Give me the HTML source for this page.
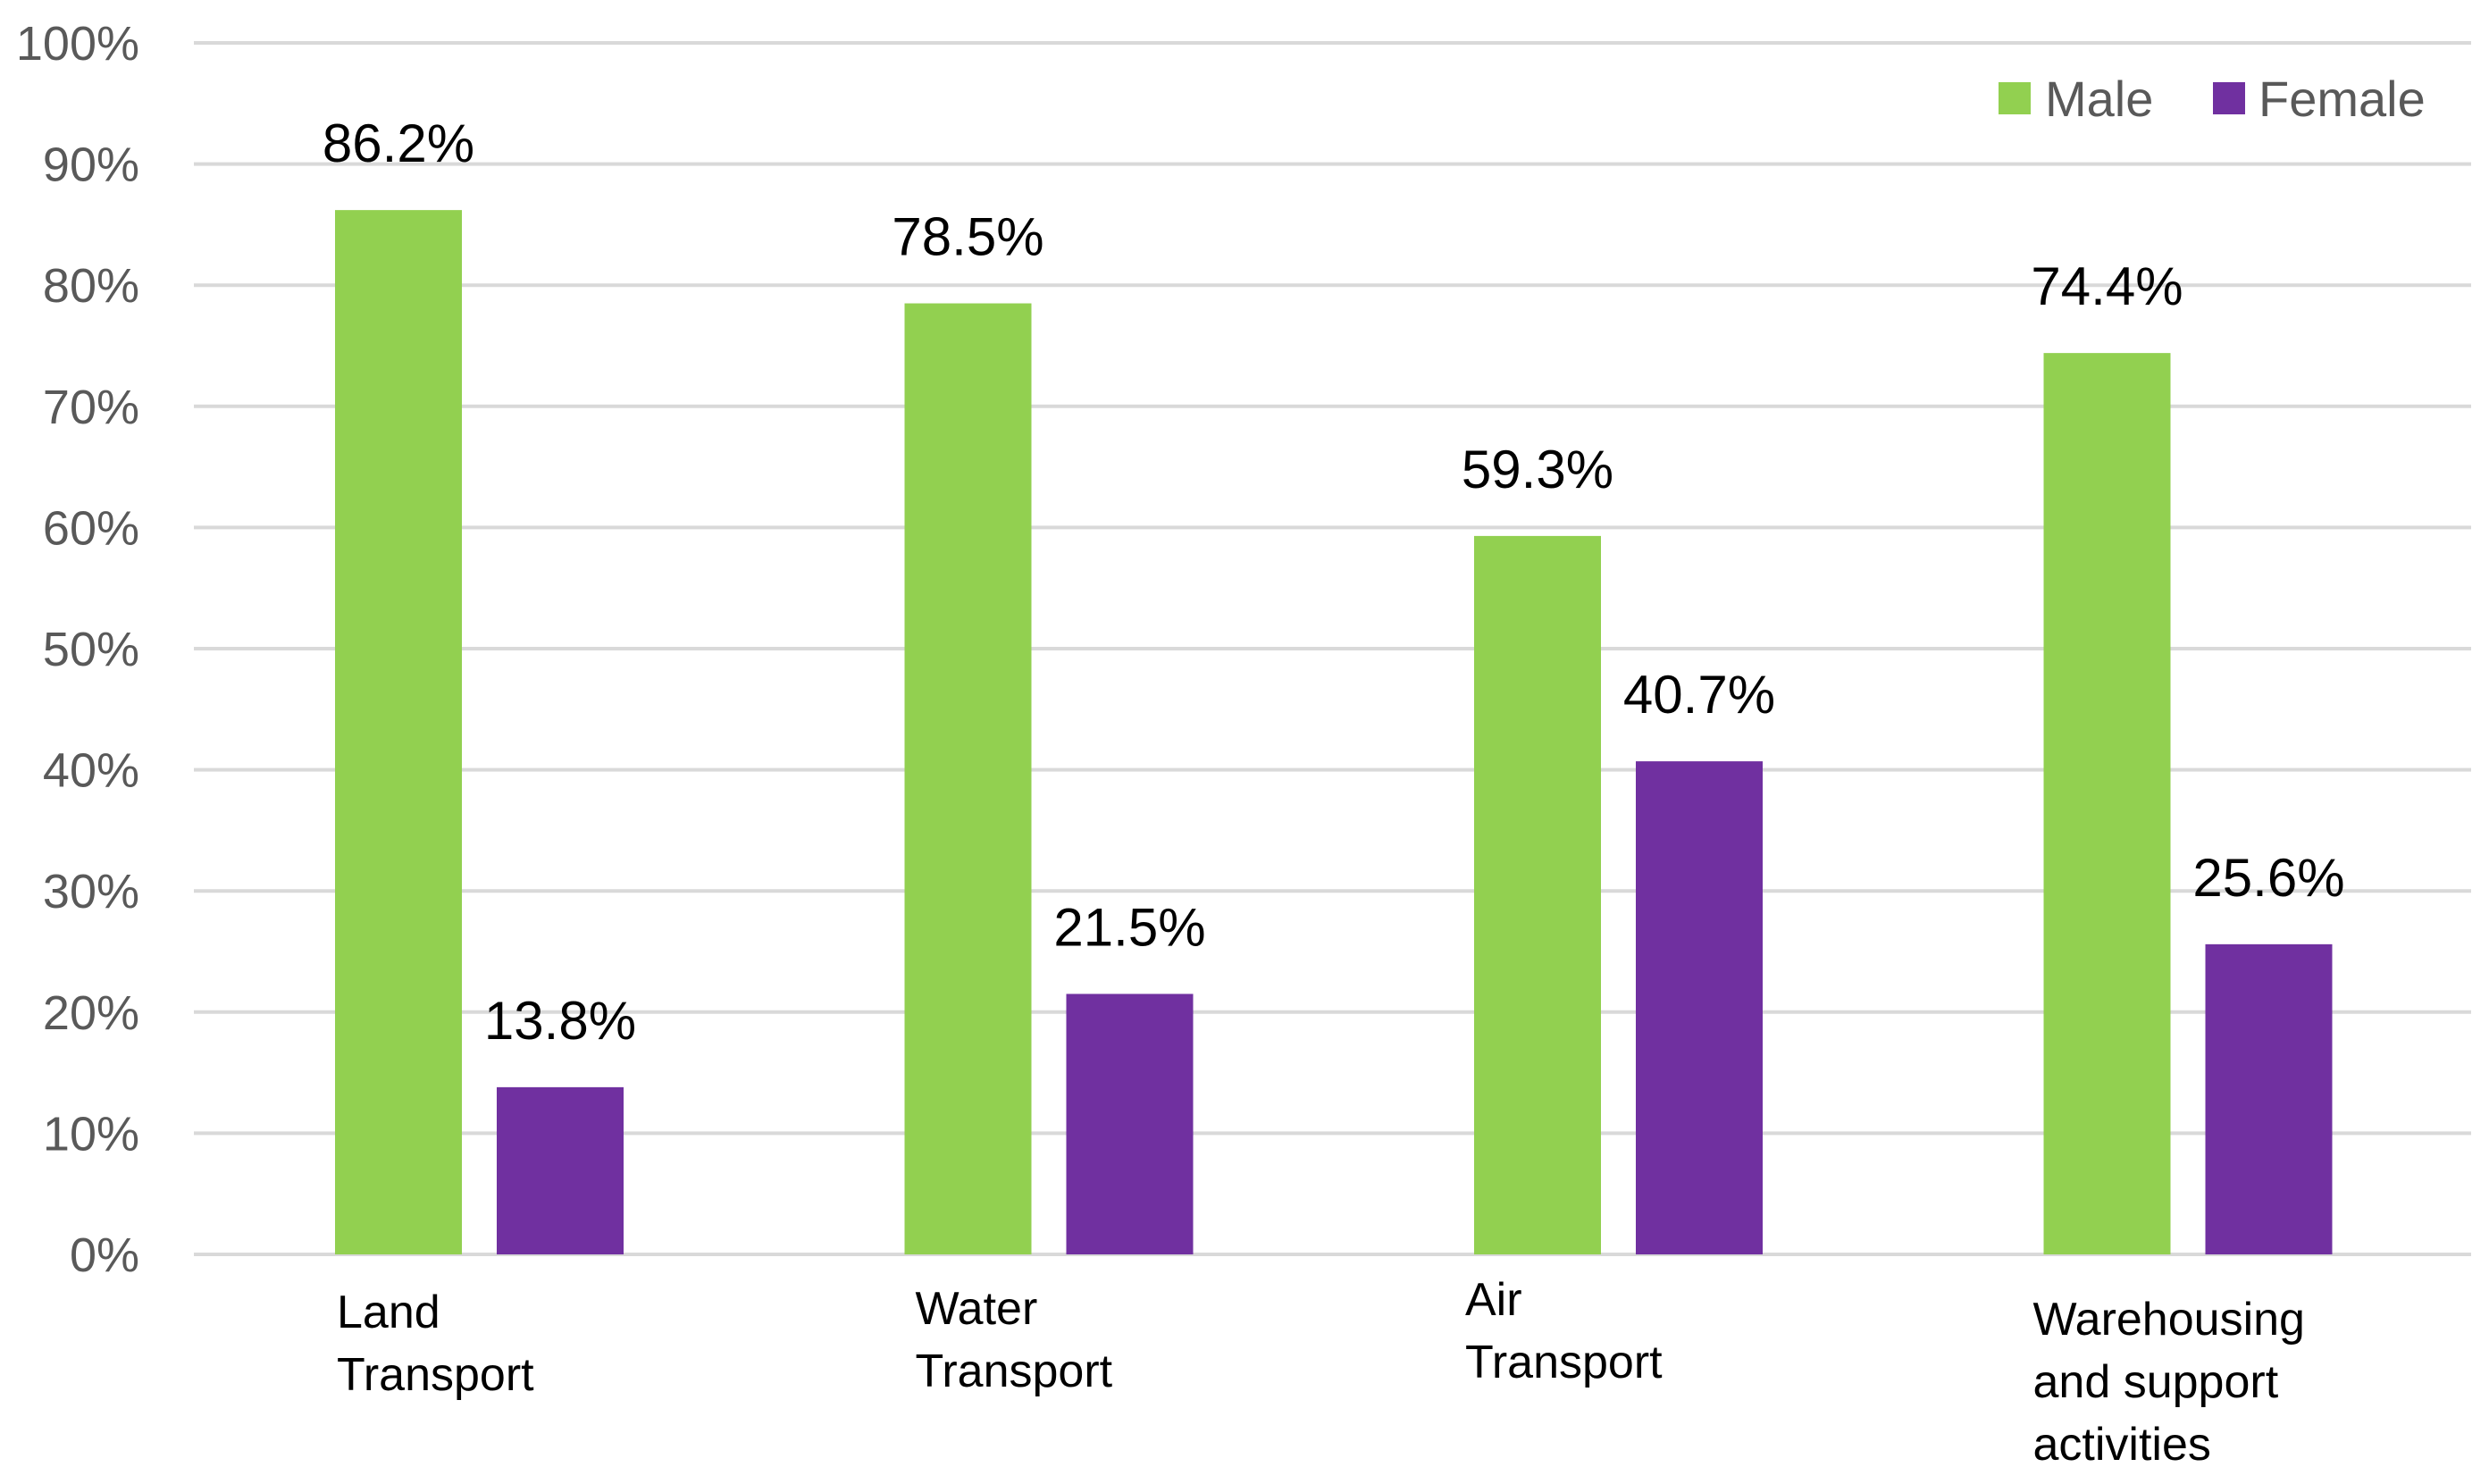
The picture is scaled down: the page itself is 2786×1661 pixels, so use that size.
<!DOCTYPE html>
<html><head><meta charset="utf-8"><style>
html,body{margin:0;padding:0;background:#fff;}
svg{display:block;font-family:"Liberation Sans",sans-serif;}
</style></head><body>
<svg id="chart" width="2786" height="1661" viewBox="0 0 2786 1661" xmlns="http://www.w3.org/2000/svg"></svg>
<script>
const categories = [["Land","Transport"],["Water","Transport"],["Air","Transport"],["Warehousing","and support","activities"]];
const maleValues = [86.2, 78.5, 59.3, 74.4];
const femaleValues = [13.8, 21.5, 40.7, 25.6];
const yTicks = [0,10,20,30,40,50,60,70,80,90,100];
const catLabelOffsets = [0, -4, -14, 8];
const catLabelShiftX = [0, 10, -12, -14];

const NS = "http://www.w3.org/2000/svg";
const svg = document.getElementById("chart");
const plotLeft = 217, plotRight = 2766, y0 = 1404, y100 = 48;
const groupStart = 375, groupStep = 637.5, barW = 142, barGap = 39;
function yScale(v){ return y0 - (y0 - y100) * v / 100; }
function xGroup(i){ return groupStart + i * groupStep; }
function mk(tag, attrs, parent){ const e = document.createElementNS(NS, tag); for (const k in attrs) e.setAttribute(k, attrs[k]); (parent||svg).appendChild(e); return e; }

yTicks.forEach(t => {
  const y = yScale(t);
  const g = mk("line", {x1: plotLeft, x2: plotRight, y1: y, y2: y, stroke: "#d9d9d9", "stroke-width": 4});
  
  
  const lb = mk("text", {x: 156, y: y + 19, "text-anchor": "end", "font-size": 54, fill: "#595959"});
  lb.textContent = t + "%";
  
  
});

categories.forEach((cat, i) => {
  const xm = xGroup(i), xf = xm + barW + barGap;
  const ym = yScale(maleValues[i]), yf = yScale(femaleValues[i]);
  const bm = mk("rect", {x: xm, y: ym, width: barW, height: y0 - ym, fill: "#92d050"});
  
  
  const bf = mk("rect", {x: xf, y: yf, width: barW, height: y0 - yf, fill: "#7030a0"});
  
  
  const lm = mk("text", {x: xm + barW/2, y: ym - 54, "text-anchor": "middle", "font-size": 60, fill: "#000"});
  lm.textContent = maleValues[i].toFixed(1) + "%";
  
  
  const lf = mk("text", {x: xf + barW/2, y: yf - 54, "text-anchor": "middle", "font-size": 60, fill: "#000"});
  lf.textContent = femaleValues[i].toFixed(1) + "%";
  
  
  cat.forEach((line, j) => {
    const t = mk("text", {x: xm + 2 + catLabelShiftX[i], y: 1486 + catLabelOffsets[i] + j * 70, "font-size": 52, fill: "#000"});
    t.textContent = line;
    
    
  });
});

const lg = mk("g", {});


const s1 = mk("rect", {x: 2237, y: 92, width: 36, height: 36, fill: "#92d050"}, lg);


const t1 = mk("text", {x: 2289, y: 130, "font-size": 56, fill: "#595959"}, lg);
t1.textContent = "Male";


const s2 = mk("rect", {x: 2477, y: 92, width: 36, height: 36, fill: "#7030a0"}, lg);


const t2 = mk("text", {x: 2528, y: 130, "font-size": 56, fill: "#595959"}, lg);
t2.textContent = "Female";


</script>
</body></html>
